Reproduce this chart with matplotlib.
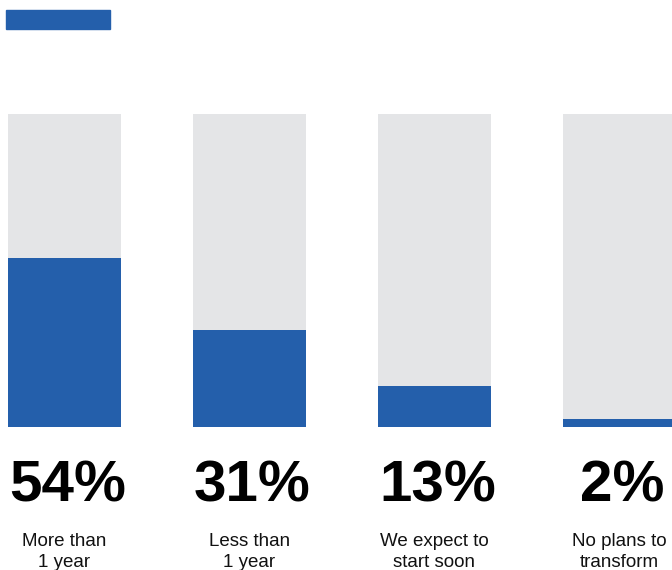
import matplotlib.pyplot as plt
from matplotlib.patches import Rectangle

categories = ['More than\n1 year', 'Less than\n1 year', 'We expect to\nstart soon', 'No plans to\ntransform']
values = [54, 31, 13, 2]
labels = ['54%', '31%', '13%', '2%']

blue = '#245fab'
grey = '#e4e5e7'

fig = plt.figure(figsize=(6.72, 5.70), dpi=100)
ax = fig.add_axes([0, 143 / 570, 1, 313 / 570])

x = list(range(len(values)))
ax.bar(x, [100] * len(values), width=113 / 185, color=grey)
# very small shares get a minimum visible height, as in the source graphic
ax.bar(x, [max(v, 2.7) for v in values], width=113 / 185, color=blue)
ax.set_xlim(-64.5 / 185, (672 - 64.5) / 185)
ax.set_ylim(0, 100)
ax.axis('off')

for i, (lab, cat) in enumerate(zip(labels, categories)):
    ax.annotate(lab, xy=(i, 0), xytext=(2, -54), textcoords='offset points',
                ha='center', va='baseline', fontsize=42, fontweight='bold',
                family='Liberation Sans', color='black', annotation_clip=False)
    ax.annotate(cat, xy=(i, 0), xytext=(0, -76), textcoords='offset points',
                ha='center', va='top', fontsize=13.5, family='Liberation Sans',
                color='#111111', linespacing=1.33, annotation_clip=False)

# legend swatch
fig.patches.append(Rectangle((6 / 672, 1 - 29 / 570), 104 / 672, 19 / 570,
                             transform=fig.transFigure, color=blue))

fig.savefig('out.png', dpi=100)
